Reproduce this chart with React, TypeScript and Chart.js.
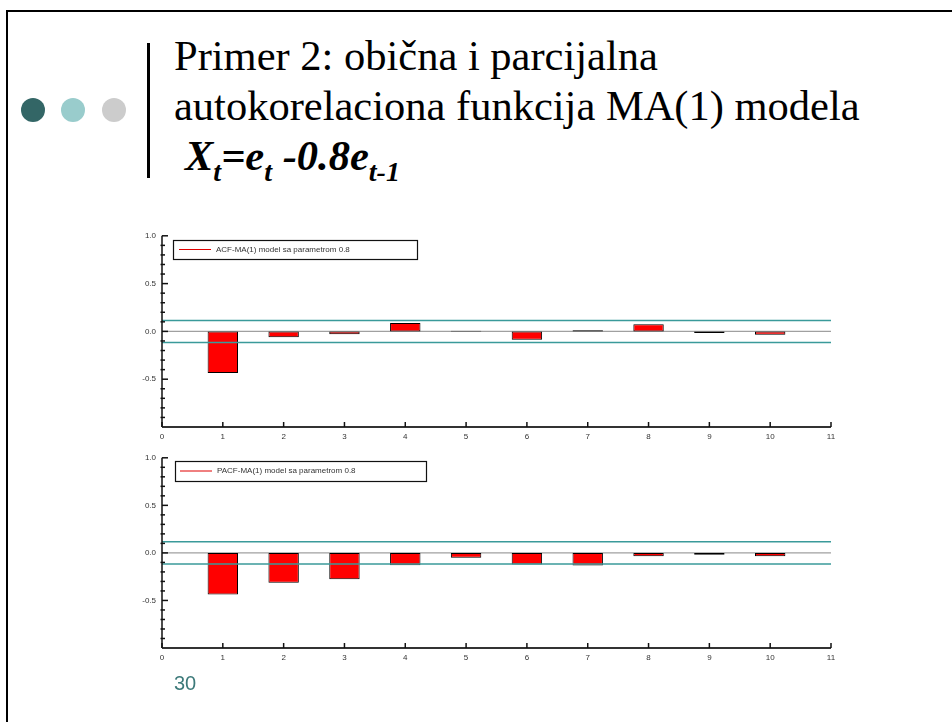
import React, { useEffect, useRef } from 'react';
import { Chart, registerables } from 'chart.js';

Chart.register(...registerables);

// ---------- data ----------
const lags = [1, 2, 3, 4, 5, 6, 7, 8, 9, 10];
const acfValues = [-0.434, -0.06, -0.03, 0.087, 0.006, -0.087, 0.012, 0.076, -0.018, -0.035];
const pacfValues = [-0.437, -0.314, -0.276, -0.13, -0.05, -0.122, -0.133, -0.035, -0.02, -0.035];
const acfBand = 0.115;
const pacfBand = 0.118;
const xTickLabels = ['0', '1', '2', '3', '4', '5', '6', '7', '8', '9', '10', '11'];
const yTickLabels = ['-0.5', '0.0', '0.5', '1.0'];
const acfLabel = 'ACF-MA(1) model sa parametrom 0.8';
const pacfLabel = 'PACF-MA(1) model sa parametrom 0.8';

const SANS = 'Arial, "Liberation Sans", sans-serif';
const SERIF = '"Times New Roman", "Liberation Serif", serif';

const axesPlugin = {
  id: 'customAxes',
  afterDatasetsDraw(chart: any) {
    const { ctx, chartArea, scales } = chart;
    const { left, right, top, bottom } = chartArea;
    const x = scales.x;
    const y = scales.y;
    const line = (x1: number, y1: number, x2: number, y2: number) => {
      ctx.beginPath();
      ctx.moveTo(x1, y1);
      ctx.lineTo(x2, y2);
      ctx.stroke();
    };
    ctx.save();
    ctx.strokeStyle = '#111';
    ctx.lineWidth = 1.5;
    line(left, top, left, bottom);
    for (let i = -10; i <= 10; i++) {
      const py = y.getPixelForValue(i / 10);
      if (i % 5 === 0) line(left, py, left + 6, py);
      else line(left - 1.5, py, left + 3, py);
    }
    ctx.strokeStyle = '#333';
    ctx.lineWidth = 2;
    line(left, bottom, right, bottom);
    ctx.lineWidth = 1.5;
    ctx.strokeStyle = '#111';
    for (let i = 0; i < xTickLabels.length; i++) {
      const px = x.getPixelForValue(i);
      line(px, bottom, px, bottom - 5);
    }
    ctx.restore();
  },
};

const boxLegendPlugin = {
  id: 'boxLegend',
  afterDraw(chart: any, _args: any, opts: any) {
    const { ctx, chartArea } = chart;
    const x0 = Math.round(chartArea.left + opts.dx);
    const y0 = Math.round(chartArea.top + opts.dy);
    const midY = y0 + opts.h / 2;
    ctx.save();
    ctx.fillStyle = '#fff';
    ctx.fillRect(x0, y0, opts.w, opts.h);
    ctx.strokeStyle = '#111';
    ctx.lineWidth = 1.2;
    ctx.strokeRect(x0 + 0.5, y0 + 0.5, opts.w, opts.h);
    ctx.strokeStyle = '#e00000';
    ctx.lineWidth = 1;
    ctx.beginPath();
    ctx.moveTo(x0 + opts.lineStart, midY);
    ctx.lineTo(x0 + opts.lineEnd, midY);
    ctx.stroke();
    ctx.fillStyle = '#333';
    ctx.font = `8px ${SANS}`;
    ctx.textBaseline = 'middle';
    ctx.fillText(chart.data.datasets[0].label, x0 + opts.textX, midY);
    ctx.restore();
  },
};

type PanelProps = {
  left: number;
  top: number;
  width: number;
  height: number;
  area: { left: number; top: number; right: number; bottom: number };
  values: number[];
  band: number;
  label: string;
  legend: { dx: number; dy: number; w: number; h: number; lineStart: number; lineEnd: number; textX: number };
};

function Panel(p: PanelProps) {
  const ref = useRef<HTMLCanvasElement | null>(null);
  useEffect(() => {
    if (!ref.current) return;
    const xAxisH = 15;
    const chart = new Chart(ref.current, {
      type: 'bar',
      data: {
        datasets: [
          {
            type: 'bar',
            label: p.label,
            data: lags.map((l, i) => ({ x: l, y: p.values[i] })),
            backgroundColor: '#ff0000',
            borderColor: '#000',
            borderWidth: 1,
            borderSkipped: false,
            barPercentage: 0.5,
            categoryPercentage: 1,
            order: 2,
          } as any,
          {
            type: 'line',
            label: 'zero',
            data: [{ x: 0, y: 0 }, { x: 11, y: 0 }],
            borderColor: '#a0a0a0',
            borderWidth: 1.2,
            pointRadius: 0,
            order: 3,
          } as any,
          {
            type: 'line',
            label: 'upper',
            data: [{ x: 0, y: p.band }, { x: 11, y: p.band }],
            borderColor: '#3a9a9a',
            borderWidth: 1.5,
            pointRadius: 0,
            order: 1,
          } as any,
          {
            type: 'line',
            label: 'lower',
            data: [{ x: 0, y: -p.band }, { x: 11, y: -p.band }],
            borderColor: '#3a9a9a',
            borderWidth: 1.5,
            pointRadius: 0,
            order: 1,
          } as any,
        ],
      },
      options: {
        animation: false,
        responsive: false,
        maintainAspectRatio: false,
        layout: {
          padding: {
            left: 0,
            top: p.area.top - p.top,
            right: p.left + p.width - p.area.right,
            bottom: p.top + p.height - p.area.bottom - xAxisH,
          },
        },
        plugins: {
          legend: { display: false },
          tooltip: { enabled: false },
          boxLegend: p.legend,
        } as any,
        scales: {
          x: {
            type: 'linear',
            min: 0,
            max: 11,
            offset: false,
            grid: { display: false, drawTicks: false, offset: false },
            border: { display: false },
            ticks: {
              stepSize: 1,
              autoSkip: false,
              maxRotation: 0,
              padding: 5,
              color: '#333',
              font: { family: SANS, size: 8 },
              callback: (v: any) => xTickLabels[Math.round(Number(v))] ?? '',
            },
            afterFit: (s: any) => {
              s.height = xAxisH;
            },
          },
          y: {
            type: 'linear',
            min: -1,
            max: 1,
            grid: { display: false, drawTicks: false },
            border: { display: false },
            ticks: {
              stepSize: 0.5,
              autoSkip: false,
              padding: 6,
              color: '#333',
              font: { family: SANS, size: 8 },
              callback: (v: any) => {
                const idx = Math.round((Number(v) + 0.5) / 0.5);
                return yTickLabels[idx] ?? '';
              },
            },
            afterFit: (s: any) => {
              s.width = p.area.left - p.left;
            },
          },
        } as any,
      },
      plugins: [axesPlugin, boxLegendPlugin],
    });
    return () => chart.destroy();
  }, []);
  return (
    <canvas
      ref={ref}
      width={p.width}
      height={p.height}
      style={{ position: 'absolute', left: p.left, top: p.top, width: p.width, height: p.height }}
    />
  );
}

const sub: React.CSSProperties = { fontSize: 28, position: 'relative', top: 11 };

export default function App() {
  return (
    <div
      style={{
        position: 'absolute',
        left: 0,
        top: 0,
        width: 952,
        height: 722,
        background: '#fff',
        overflow: 'hidden',
      }}
    >
      {/* slide border */}
      <div style={{ position: 'absolute', left: 6, top: 10, width: 960, height: 2, background: '#000' }} />
      <div style={{ position: 'absolute', left: 6, top: 10, width: 2, height: 720, background: '#000' }} />
      {/* bullets */}
      <div style={{ position: 'absolute', left: 21, top: 98, width: 24, height: 24, borderRadius: 12, background: '#336666' }} />
      <div style={{ position: 'absolute', left: 61, top: 98, width: 24, height: 24, borderRadius: 12, background: '#99cccc' }} />
      <div style={{ position: 'absolute', left: 102, top: 98, width: 24, height: 24, borderRadius: 12, background: '#cccccc' }} />
      {/* vertical bar */}
      <div style={{ position: 'absolute', left: 147, top: 43, width: 3, height: 135, background: '#000' }} />
      {/* title */}
      <div
        style={{
          position: 'absolute',
          left: 174,
          top: 35,
          fontFamily: SERIF,
          fontSize: 42.5,
          lineHeight: '50px',
          color: '#000',
          whiteSpace: 'nowrap',
        }}
      >
        <div style={{ height: 50, lineHeight: '42.5px' }}>Primer 2: obična i parcijalna</div>
        <div style={{ height: 50, lineHeight: '42.5px' }}>autokorelaciona funkcija MA(1) modela</div>
        <div style={{ height: 50, lineHeight: '42.5px', fontWeight: 'bold', fontStyle: 'italic', paddingLeft: 11 }}>
          X<span style={sub}>t</span>=e<span style={sub}>t</span> -0.8e<span style={sub}>t-1</span>
        </div>
      </div>
      {/* charts */}
      <Panel
        left={110}
        top={225}
        width={740}
        height={225}
        area={{ left: 162, top: 235, right: 831, bottom: 427 }}
        values={acfValues}
        band={acfBand}
        label={acfLabel}
        legend={{ dx: 11, dy: 4, w: 244, h: 19, lineStart: 6, lineEnd: 38, textX: 43 }}
      />
      <Panel
        left={110}
        top={447}
        width={740}
        height={228}
        area={{ left: 162, top: 457, right: 831, bottom: 648 }}
        values={pacfValues}
        band={pacfBand}
        label={pacfLabel}
        legend={{ dx: 13, dy: 3, w: 251, h: 20, lineStart: 5, lineEnd: 37, textX: 42 }}
      />
      {/* page number */}
      <div
        style={{
          position: 'absolute',
          left: 174,
          top: 673,
          fontFamily: SANS,
          fontSize: 20,
          lineHeight: '20px',
          color: '#3d7a7a',
        }}
      >
        30
      </div>
    </div>
  );
}
